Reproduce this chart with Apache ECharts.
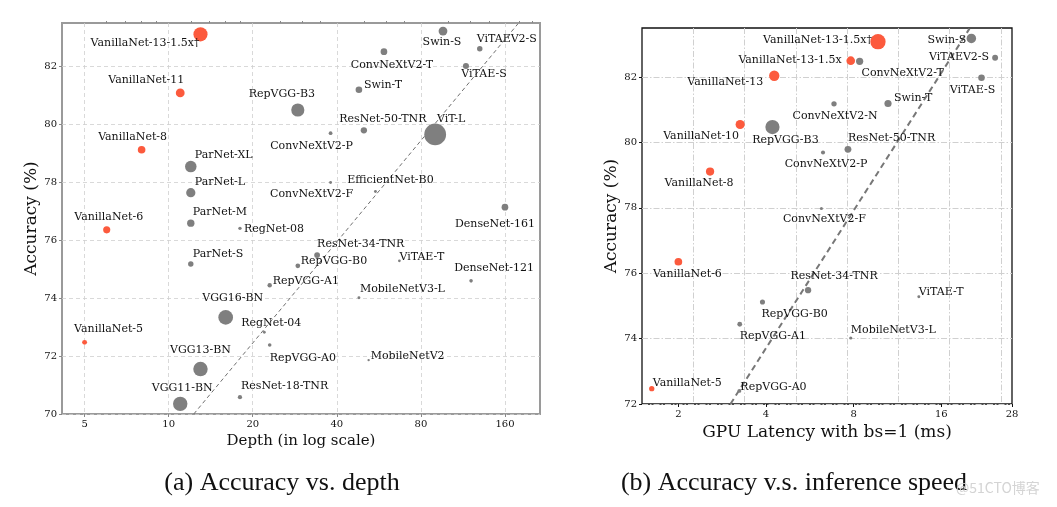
<!DOCTYPE html>
<html><head><meta charset="utf-8">
<script src="https://cdn.jsdelivr.net/npm/echarts@6/dist/echarts.min.js"></script>
<style>html,body{margin:0;padding:0;background:#fff}#c{width:1057px;height:507px}</style>
</head><body><div id="c"></div>
<script>
// ---------- data: (a) accuracy vs depth ----------
const leftNames = ['VanillaNet-5','VanillaNet-6','VanillaNet-8','VanillaNet-11','VanillaNet-13-1.5x\u2020','ParNet-S','ParNet-M','ParNet-L','ParNet-XL','VGG11-BN','VGG13-BN','VGG16-BN','RepVGG-A0','RepVGG-A1','RepVGG-B0','RepVGG-B3','RegNet-04','RegNet-08','ResNet-18-TNR','ResNet-34-TNR','ResNet-50-TNR','EfficientNet-B0','ConvNeXtV2-F','ConvNeXtV2-P','ConvNeXtV2-T','Swin-T','Swin-S','ViT-L','ViTAE-T','ViTAE-S','ViTAEV2-S','DenseNet-121','DenseNet-161','MobileNetV2','MobileNetV3-L'];
const leftDepth = [5,6,8,11,13,12,12,12,12,11,13,16,23,23,29,29,22,18,18,34,50,55,38,38,59,48,96,90,67,116,130,121,160,52,48];
const leftAcc = [72.47,76.35,79.11,81.07,83.09,75.17,76.58,77.63,78.53,70.35,71.55,73.33,72.38,74.44,75.11,80.48,72.82,76.40,70.58,75.48,79.78,77.67,77.98,79.68,82.49,81.18,83.20,79.64,75.28,82.00,82.59,74.59,77.13,71.86,74.01];
const leftParams = [15.5,32.5,37.1,50.0,127.8,19,35,55,85,132.9,133.1,138.4,8.3,12.8,14.3,110.9,5.2,7.3,11.7,21.8,25.6,5.3,5.2,9.1,28.6,28.3,49.6,304.3,4.8,23.6,19.2,8.0,28.7,3.5,5.4];
const leftTrend = [[12.3,70],[178,83.45]];
const leftXTicks = [5,10,20,40,80,160];
const leftXMinor = [6,7,8,9,12,14,16,18,25,30,35,50,60,70,100,120,140,180,200];
const leftYTicks = [70,72,74,76,78,80,82];

// ---------- data: (b) accuracy vs GPU latency ----------
const rightNames = ['VanillaNet-5','VanillaNet-6','VanillaNet-8','VanillaNet-10','VanillaNet-13','VanillaNet-13-1.5x','VanillaNet-13-1.5x\u2020','RepVGG-A0','RepVGG-A1','RepVGG-B0','RepVGG-B3','ResNet-34-TNR','ResNet-50-TNR','ConvNeXtV2-F','ConvNeXtV2-P','ConvNeXtV2-N','ConvNeXtV2-T','Swin-T','Swin-S','ViTAE-T','ViTAE-S','ViTAEV2-S','MobileNetV3-L'];
const rightLatency = [1.62,2.0,2.57,3.26,4.27,7.82,9.70,3.24,3.25,3.89,4.21,5.58,7.65,6.2,6.28,6.85,8.39,10.5,20.3,13.4,22.0,24.5,7.82];
const rightAcc = [72.47,76.35,79.11,80.55,82.04,82.50,83.08,72.40,74.44,75.12,80.47,75.48,79.79,77.98,79.69,81.18,82.48,81.19,83.18,75.28,81.98,82.59,74.02];
const rightParams = [15.5,32.5,37.1,45.7,58.6,41,127.8,8.3,12.8,14.3,110.9,21.8,25.6,5.2,9.1,15.6,28.6,28.3,49.6,4.8,23.6,19.2,5.4];
const rightTrend = [[3.02,72],[20.0,83.48]];
const rightXTicks = [2,4,8,16,28];
const rightXGrid = [2.25,3.375,5.0625,7.594,11.39,17.09,25.63];
const rightYTicks = [72,74,76,78,80,82];

// ---------- layout (label anchors) ----------
const leftLabelLayout = {
 'VanillaNet-13-1.5x\u2020':['right',-1,9],'VanillaNet-11':['center',-34,-13],'VanillaNet-8':['center',-9,-13],
 'VanillaNet-6':['center',2,-13],'VanillaNet-5':['center',24,-13],'ParNet-XL':['left',4,-11],'ParNet-L':['left',4,-11],
 'ParNet-M':['left',2,-11],'ParNet-S':['left',2,-10],'RegNet-08':['left',4,1],'RepVGG-A1':['left',3,-4],
 'VGG16-BN':['center',7,-19],'RegNet-04':['center',7,-9],'RepVGG-A0':['left',0,13],'VGG13-BN':['center',0,-19],
 'VGG11-BN':['center',2,-16],'ResNet-18-TNR':['left',1,-11],'RepVGG-B3':['center',-16,-16],'ConvNeXtV2-P':['center',-19,13],
 'ResNet-50-TNR':['center',19,-11],'ViT-L':['center',16,-15],'Swin-T':['left',5,-5],'ConvNeXtV2-T':['center',8,13],
 'Swin-S':['center',-1,11],'ViTAEV2-S':['center',27,-10],'ViTAE-S':['center',18,8],'EfficientNet-B0':['center',15,-11],
 'ConvNeXtV2-F':['center',-19,12],'DenseNet-161':['center',-10,17],'ResNet-34-TNR':['left',0,-11],'RepVGG-B0':['left',3,-5],
 'ViTAE-T':['left',0,-4],'DenseNet-121':['center',23,-13],'MobileNetV3-L':['left',1,-9],'MobileNetV2':['left',2,-4]
};
const rightLabelLayout = {
 'VanillaNet-13-1.5x\u2020':['right',-6,-2],'VanillaNet-13-1.5x':['right',-9,-1],'ConvNeXtV2-T':['center',43,12],
 'VanillaNet-13':['right',-11,6],'VanillaNet-10':['center',-39,12],'RepVGG-B3':['center',13,13],'VanillaNet-8':['center',-11,12],
 'ConvNeXtV2-N':['center',1,12],'Swin-T':['left',6,-5],'Swin-S':['right',-5,2],'ViTAEV2-S':['right',-6,-1],
 'ViTAE-S':['center',-9,12],'ConvNeXtV2-P':['center',3,12],'ResNet-50-TNR':['left',0,-11],'ConvNeXtV2-F':['center',3,11],
 'ResNet-34-TNR':['center',26,-14],'RepVGG-B0':['left',-1,12],'RepVGG-A1':['left',0,12],'RepVGG-A0':['left',1,-4],
 'VanillaNet-6':['center',9,12],'VanillaNet-5':['left',1,-5],'ViTAE-T':['left',0,-5],'MobileNetV3-L':['left',0,-8]
};

const SERIF = 'DejaVu Serif';
const ORANGE = '#fc5a3d', GRAY = '#7f7f7f';
const L2 = Math.log2;

function buildPoints(names, xs, ys, params, layout, k) {
  return names.map((n, i) => {
    const lay = layout[n] || ['left', 3, -6];
    return {
      name: n,
      value: [L2(xs[i]), ys[i]],
      symbolSize: Math.max(2, k * Math.sqrt(params[i])),
      itemStyle: { color: n.indexOf('VanillaNet') === 0 ? ORANGE : GRAY, opacity: 1 },
      label: {
        show: true, formatter: n, position: 'inside', align: lay[0], verticalAlign: 'middle',
        offset: [lay[1], lay[2]], color: '#111', fontFamily: SERIF, fontSize: 11
      }
    };
  });
}

function xAxisBase(grid, min, max) {
  return { gridIndex: grid, type: 'value', min: min, max: max, axisLine: { show: false } };
}

const chart = echarts.init(document.getElementById('c'), null, { renderer: 'canvas' });
chart.setOption({
  animation: false,
  backgroundColor: '#fff',
  grid: [
    { left: 62, top: 23, width: 478, height: 391, show: true, borderColor: '#9a9a9a', borderWidth: 2, backgroundColor: 'transparent' },
    { left: 642, top: 28, width: 370, height: 376, show: true, borderColor: '#111', borderWidth: 1.3, backgroundColor: 'transparent' }
  ],
  xAxis: [
    Object.assign(xAxisBase(0, L2(4.15), L2(213.6)), {
      axisTick: { show: true, length: 3, customValues: leftXTicks.map(L2), lineStyle: { color: '#888' } },
      axisLabel: { customValues: leftXTicks.map(L2), formatter: v => String(Math.round(Math.pow(2, v))), fontFamily: SERIF, fontSize: 10, color: '#111', margin: 5 },
      splitLine: { show: true, lineStyle: { color: '#cfcfcf', type: [4, 3], width: 0.8 } },
      name: 'Depth (in log scale)', nameLocation: 'middle', nameGap: 17,
      nameTextStyle: { fontFamily: SERIF, fontSize: 15, color: '#111' }
    }),
    Object.assign(xAxisBase(0, L2(4.15), L2(213.6)), {
      axisTick: { show: true, length: 2, customValues: leftXMinor.map(L2), lineStyle: { color: '#888' } },
      axisLabel: { show: false }, splitLine: { show: false }
    }),
    Object.assign(xAxisBase(1, L2(1.5), L2(28)), {
      axisTick: { show: true, length: 3, customValues: rightXTicks.map(L2), lineStyle: { color: '#111' } },
      axisLabel: { customValues: rightXTicks.map(L2), formatter: v => String(Math.round(Math.pow(2, v))), fontFamily: SERIF, fontSize: 10, color: '#111', margin: 5 },
      splitLine: { show: false },
      name: 'GPU Latency with bs=1 (ms)', nameLocation: 'middle', nameGap: 20,
      nameTextStyle: { fontFamily: SERIF, fontSize: 17, color: '#111' }
    }),
    Object.assign(xAxisBase(1, L2(1.5), L2(28)), {
      axisTick: { show: false, customValues: rightXGrid.map(L2) },
      axisLabel: { show: false },
      splitLine: { show: true, lineStyle: { color: '#d0d0d0', type: [6, 2, 1.5, 2], width: 1 } }
    })
  ],
  yAxis: [
    { gridIndex: 0, type: 'value', min: 70, max: 83.48, axisLine: { show: false },
      axisTick: { show: true, length: 3, customValues: leftYTicks, lineStyle: { color: '#888' } },
      axisLabel: { customValues: leftYTicks, fontFamily: SERIF, fontSize: 10, color: '#111', margin: 5 },
      splitLine: { show: true, lineStyle: { color: '#cfcfcf', type: [4, 3], width: 0.8 } },
      name: 'Accuracy (%)', nameLocation: 'middle', nameGap: 18,
      nameTextStyle: { fontFamily: SERIF, fontSize: 17, color: '#111' } },
    { gridIndex: 1, type: 'value', min: 72, max: 83.5, axisLine: { show: false },
      axisTick: { show: true, length: 3, customValues: rightYTicks, lineStyle: { color: '#111' } },
      axisLabel: { customValues: rightYTicks, fontFamily: SERIF, fontSize: 10, color: '#111', margin: 5 },
      splitLine: { show: true, lineStyle: { color: '#d0d0d0', type: [6, 2, 1.5, 2], width: 1 } },
      name: 'Accuracy (%)', nameLocation: 'middle', nameGap: 21,
      nameTextStyle: { fontFamily: SERIF, fontSize: 17, color: '#111' } }
  ],
  series: [
    { type: 'line', xAxisIndex: 0, yAxisIndex: 0, data: leftTrend.map(p => [L2(p[0]), p[1]]), symbol: 'none', silent: true,
      lineStyle: { color: '#6f6f6f', width: 1, type: [4, 3] }, z: 1 },
    { type: 'scatter', xAxisIndex: 0, yAxisIndex: 0, data: buildPoints(leftNames, leftDepth, leftAcc, leftParams, leftLabelLayout, 1.25), z: 2 },
    { type: 'line', xAxisIndex: 2, yAxisIndex: 1, data: rightTrend.map(p => [L2(p[0]), p[1]]), symbol: 'none', silent: true,
      lineStyle: { color: '#777', width: 2, type: [6, 4] }, z: 1 },
    { type: 'scatter', xAxisIndex: 2, yAxisIndex: 1, data: buildPoints(rightNames, rightLatency, rightAcc, rightParams, rightLabelLayout, 1.35), z: 2 }
  ],
  graphic: [
    { type: 'text', x: 282, y: 483, style: { text: '(a) Accuracy vs. depth', font: '26px "Liberation Serif"', fill: '#111', textAlign: 'center', textVerticalAlign: 'middle' } },
    { type: 'text', x: 794, y: 483, style: { text: '(b) Accuracy v.s. inference speed', font: '26px "Liberation Serif"', fill: '#111', textAlign: 'center', textVerticalAlign: 'middle' } },
    { type: 'text', x: 956, y: 488, style: { text: '@51CTO\u535a\u5ba2', font: '14px "Noto Sans CJK SC"', fill: '#d4d4d4', textAlign: 'left', textVerticalAlign: 'middle' } }
  ]
});
</script></body></html>
